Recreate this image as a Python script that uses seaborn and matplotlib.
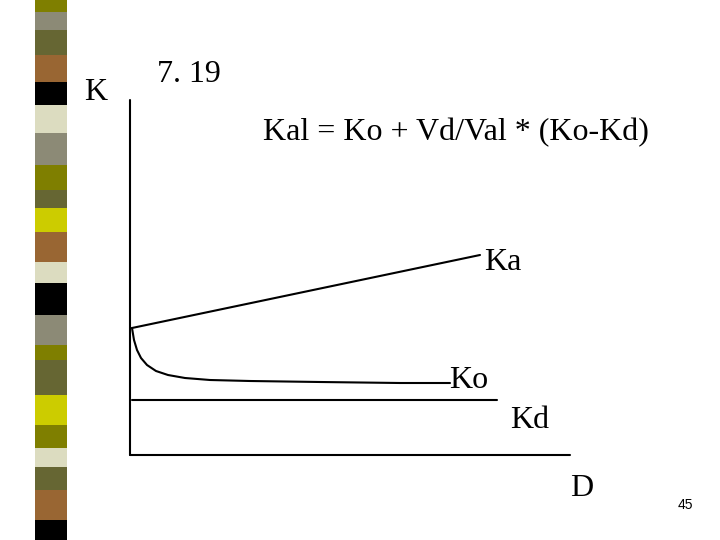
import matplotlib
matplotlib.use("Agg")
import matplotlib.pyplot as plt
import seaborn as sns

sns.set_theme(style="white")
plt.rcParams['font.family'] = ['Liberation Serif', 'DejaVu Serif']
plt.rcParams['text.color'] = 'black'

# decorative stripe blocks (top, bottom, colour) in slide pixels
stripe_top = [0, 12, 30, 55, 82, 105, 133, 165, 190, 208, 232, 262, 283, 315, 345, 360, 395, 425, 448, 467, 490, 520]
stripe_bot = stripe_top[1:] + [540]
stripe_col = ['#7f7f00', '#8c8a76', '#666633', '#996633', '#000000', '#dcdcc0',
              '#8c8a76', '#7f7f00', '#666633', '#cccc00', '#996633', '#dcdcc0',
              '#000000', '#8c8a76', '#7f7f00', '#666633', '#cccc00', '#7f7f00',
              '#dcdcc0', '#666633', '#996633', '#000000']

# diagram curves
ka_x = [132, 480]
ka_y = [328, 255]
ko_x = [132, 134, 137, 141, 147, 156, 168, 185, 210, 250, 320, 400, 450]
ko_y = [328, 340, 350, 358, 365, 371, 375, 378, 380, 381, 382, 383, 383]
kd_x = [132, 497]
kd_y = [400, 400]

fig = plt.figure(figsize=(7.2, 5.4), dpi=100)
ax = fig.add_axes([0, 0, 1, 1])
ax.set_xlim(0, 720)
ax.set_ylim(540, 0)
ax.axis('off')

ax.bar([51] * len(stripe_top), [b - t for t, b in zip(stripe_top, stripe_bot)],
       bottom=stripe_top, width=32, color=stripe_col, linewidth=0)

# axes of the diagram
ax.plot([130, 130], [100, 455], color='black', lw=1.5)
ax.plot([130, 570], [455, 455], color='black', lw=1.5)

sns.lineplot(x=ka_x, y=ka_y, ax=ax, color='black', lw=1.5, sort=False)
sns.lineplot(x=ko_x, y=ko_y, ax=ax, color='black', lw=1.5, sort=False)
sns.lineplot(x=kd_x, y=kd_y, ax=ax, color='black', lw=1.5, sort=False)

fs = 23
ax.text(84, 92, 'K', fontsize=fs, va='center')
ax.text(157, 75, '7. 19', fontsize=fs, va='center')
ax.text(263, 133, 'Kal = Ko + Vd/Val * (Ko-Kd)', fontsize=fs, va='center')
ax.text(484, 262, 'Ka', fontsize=fs, va='center')
ax.text(449, 380, 'Ko', fontsize=fs, va='center')
ax.text(510, 421, 'Kd', fontsize=fs, va='center')
ax.text(570, 488, 'D', fontsize=fs, va='center')
ax.text(678, 505, '45', fontsize=10, va='center', family=['Liberation Sans', 'DejaVu Sans'])

fig.savefig('out.png', dpi=100)
